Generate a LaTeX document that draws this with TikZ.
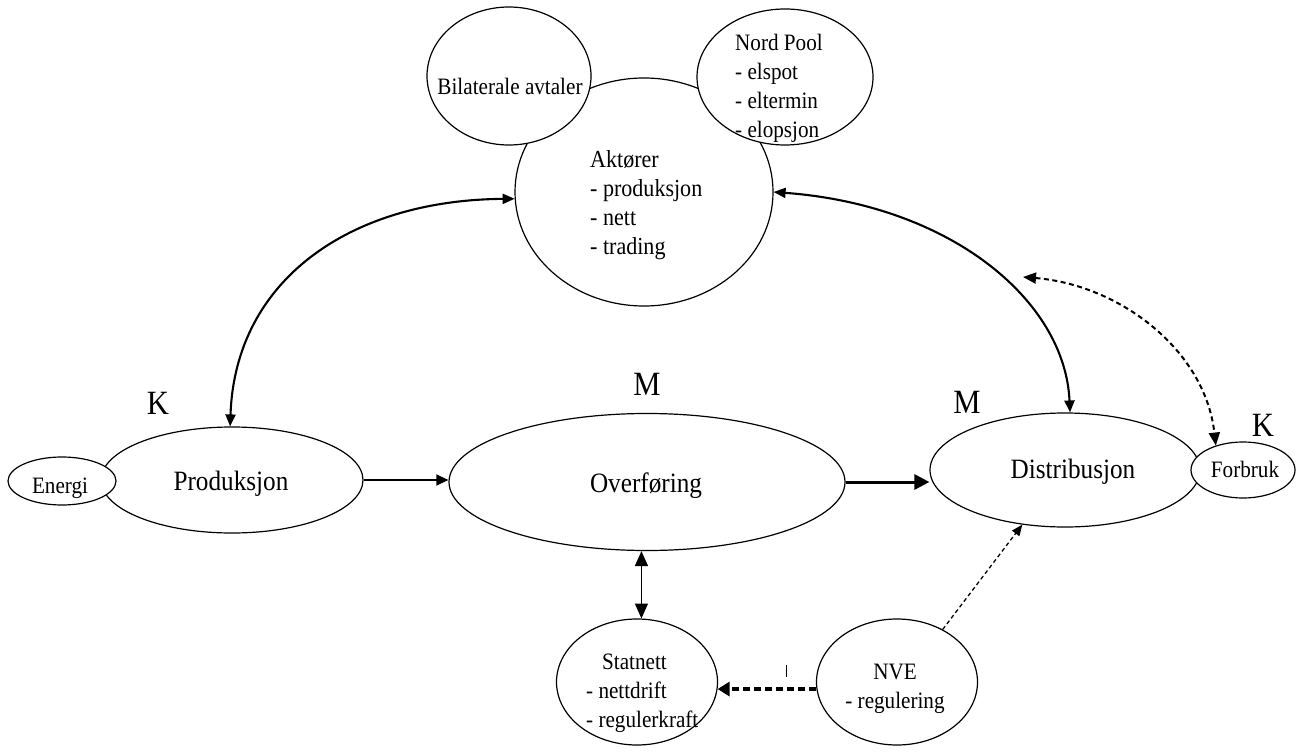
\documentclass[tikz,border=0pt]{standalone}
\usepackage{fontspec}
\setmainfont{Liberation Serif}[FakeStretch=0.9]
\usetikzlibrary{arrows.meta,shapes.geometric}
\begin{document}
\begin{tikzpicture}[x=1pt,y=-1pt,
  ell/.style={draw, ellipse, line width=1.2pt, fill=white, inner sep=0pt},
  small/.style={inner sep=0pt, font=\fontsize{23.5}{29}\selectfont},
  smallA/.style={inner sep=0pt, font=\fontsize{24.5}{29}\selectfont},
  main/.style={inner sep=0pt, font=\fontsize{28}{32}\selectfont},
  big/.style={inner sep=0pt, font=\fontsize{34}{38}\selectfont},
  curve/.style={line width=2.1pt, {Triangle[length=12pt,width=10pt]}-{Triangle[length=12pt,width=10pt]}},
  dcurve/.style={line width=2pt, dash pattern=on 5pt off 3.5pt, {Triangle[length=13pt,width=11pt]}-{Triangle[length=13pt,width=11pt]}},
  thinarrow/.style={line width=1.3pt, -{Triangle[length=12pt,width=11pt]}},
  thickarrow/.style={line width=3pt, -{Triangle[length=15pt,width=15pt]}},
  dblarrow/.style={line width=1.5pt, {Triangle[length=15pt,width=13pt]}-{Triangle[length=15pt,width=13pt]}},
  thindash/.style={line width=1.3pt, dash pattern=on 4pt off 3pt, -{Triangle[length=11pt,width=9pt]}},
  thickdash/.style={line width=4pt, dash pattern=on 7pt off 4pt, -{Triangle[length=12pt,width=14pt]}}
]
\useasboundingbox (0,0) rectangle (1300,754);

% top cluster
\node[ell, minimum width=258pt, minimum height=228pt] (akt) at (644,192) {};
\node[ell, minimum width=164pt, minimum height=138pt] (bil) at (509,76) {};
\node[ell, minimum width=176pt, minimum height=136pt] (nord) at (785,77) {};
\node[small, anchor=base] (bilT) at (510,95) {Bilaterale avtaler};
\node[small, align=left, anchor=north west] (nordT) at (735,34) {Nord Pool\\- elspot\\- eltermin\\- elopsjon};
\node[smallA, align=left, anchor=north west] (aktT) at (590,150) {Aktører\\- produksjon\\- nett\\- trading};

% middle row
\node[ell, minimum width=262pt, minimum height=106pt] (prod) at (232,480) {};
\node[ell, minimum width=108pt, minimum height=48pt] (energi) at (62,481) {};
\node[ell, minimum width=396pt, minimum height=137pt] (ovf) at (647,482) {};
\node[ell, minimum width=270pt, minimum height=114pt] (dist) at (1065,470) {};
\node[ell, minimum width=104pt, minimum height=56pt] (forb) at (1243,470) {};

\node[main, anchor=base] (prodT) at (231,490) {Produksjon};
\node[small, anchor=base] (energiT) at (60,493) {Energi};
\node[main, anchor=base] (ovfT) at (646,492) {Overføring};
\node[main, anchor=base] (distT) at (1073,478) {Distribusjon};
\node[small, anchor=base] (forbT) at (1245,477) {Forbruk};

\node[big] (k1) at (158,403) {K};
\node[big] (m1) at (647,384) {M};
\node[big] (m2) at (967,402) {M};
\node[big] (k2) at (1263,425) {K};

% bottom row
\node[ell, minimum width=161pt, minimum height=126pt] (stat) at (637,682) {};
\node[ell, minimum width=161pt, minimum height=126pt] (nve) at (897,682) {};
\node[small, align=left, anchor=north west] (statT) at (586,654) {\hspace*{16pt}Statnett\\- nettdrift\\- regulerkraft};
\node[small, align=center, anchor=north] (nveT) at (895,664) {NVE\\- regulering};

% connectors
\draw[thinarrow] (prod.east) -- (prod.east -| ovf.west);
\draw[thickarrow] (ovf.east) -- (ovf.east -| dist.west);
\draw[dblarrow] (ovf.south -| stat.86) -- (stat.86);
\draw[curve] (prod.92) .. controls (235,280) and (350,200) .. (akt.183);
\draw[curve] (dist.85) .. controls (1065,300) and (950,205) .. (akt.east);
\coordinate (fre) at (1023,277);
\draw[dcurve] (fre) .. controls (1120,285) and (1205,350) .. (forb.138);
\draw[thindash] (nve.49) -- (dist.232);
\draw[thickdash] (nve.185) -- (stat.355);
\coordinate (tickA) at (786,665);
\coordinate (tickB) at (786,677);
\draw[line width=1pt] (tickA) -- (tickB);
\end{tikzpicture}
\end{document}
